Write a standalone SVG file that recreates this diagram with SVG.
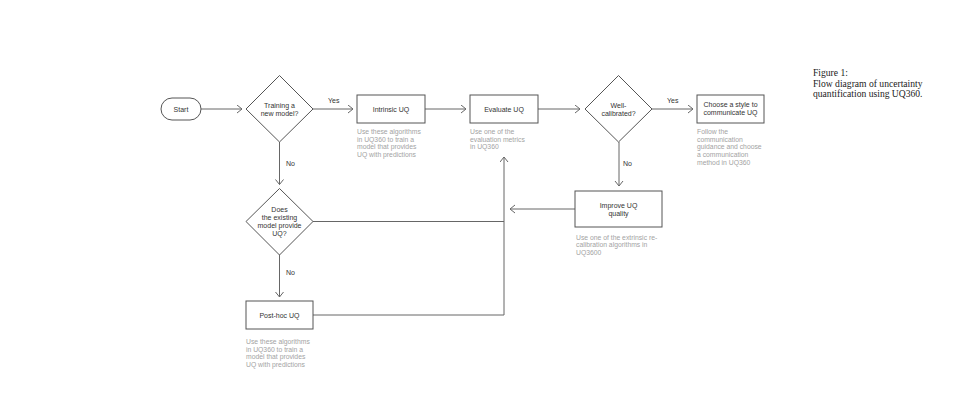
<svg xmlns="http://www.w3.org/2000/svg" width="960" height="420" viewBox="0 0 960 420">
<defs>
<marker id="arr" markerUnits="userSpaceOnUse" markerWidth="10" markerHeight="10" refX="5.5" refY="4.5" orient="auto">
<path d="M0.5,0.5 L5.5,4.5 L0.5,8.5" fill="none" stroke="#666" stroke-width="1"/>
</marker>
</defs>
<style>
.shape{fill:#fff;stroke:#555;stroke-width:1}
.lbl{font-family:"Liberation Sans",Arial,sans-serif;font-size:7px;fill:#333;text-anchor:middle}
.desc{font-family:"Liberation Sans",Arial,sans-serif;font-size:6.8px;fill:#a3a3a3}
.cl{font-family:"Liberation Sans",Arial,sans-serif;font-size:7px;fill:#333}
.con{fill:none;stroke:#666;stroke-width:1}
.cap{font-family:"Liberation Serif","Times New Roman",serif;font-size:9.6px;fill:#222}
</style>
<rect width="960" height="420" fill="#fff"/>
<g id="connectors">
<line class="con" x1="201" y1="109" x2="242" y2="109" marker-end="url(#arr)"/>
<line class="con" x1="313" y1="109" x2="353" y2="109" marker-end="url(#arr)"/>
<text class="cl" x="328" y="103">Yes</text>
<line class="con" x1="425" y1="109" x2="466" y2="109" marker-end="url(#arr)"/>
<line class="con" x1="538" y1="109" x2="580" y2="109" marker-end="url(#arr)"/>
<line class="con" x1="652" y1="109" x2="693" y2="109" marker-end="url(#arr)"/>
<text class="cl" x="667" y="103">Yes</text>
<line class="con" x1="619" y1="142" x2="619" y2="186" marker-end="url(#arr)"/>
<text class="cl" x="623" y="165.5">No</text>
<line class="con" x1="575" y1="209" x2="510" y2="209" marker-end="url(#arr)"/>
<line class="con" x1="504" y1="315" x2="504" y2="157" marker-end="url(#arr)"/>
<line class="con" x1="313" y1="221.5" x2="504" y2="221.5"/>
<line class="con" x1="313" y1="315" x2="504" y2="315"/>
<line class="con" x1="279.5" y1="142" x2="279.5" y2="184.5" marker-end="url(#arr)"/>
<text class="cl" x="286" y="165.5">No</text>
<line class="con" x1="279.5" y1="255" x2="279.5" y2="297" marker-end="url(#arr)"/>
<text class="cl" x="286" y="275">No</text>
</g>
<g id="start">
<rect class="shape" x="161" y="98" width="40" height="22" rx="11"/>
<text class="lbl" x="181" y="111.5">Start</text>
</g>
<g id="training">
<polygon class="shape" points="279.5,75.5 313,109 279.5,142 246,109"/>
<text class="lbl" x="279.5" y="107.5">Training a</text>
<text class="lbl" x="279.5" y="116">new model?</text>
</g>
<g id="intrinsic">
<rect class="shape" x="357" y="95" width="68" height="28"/>
<text class="lbl" x="391" y="112">Intrinsic UQ</text>
<text class="desc" x="357" y="134">Use these algorithms</text>
<text class="desc" x="357" y="141.7">in UQ360 to train a</text>
<text class="desc" x="357" y="149.4">model that provides</text>
<text class="desc" x="357" y="157.1">UQ with predictions</text>
</g>
<g id="evaluate">
<rect class="shape" x="470" y="95" width="68" height="28"/>
<text class="lbl" x="504" y="112">Evaluate UQ</text>
<text class="desc" x="470" y="134">Use one of the</text>
<text class="desc" x="470" y="141.7">evaluation metrics</text>
<text class="desc" x="470" y="149.4">in UQ360</text>
</g>
<g id="wellcalibrated">
<polygon class="shape" points="618.5,75.5 652,109 618.5,142 585,109"/>
<text class="lbl" x="618.5" y="107.5">Well-</text>
<text class="lbl" x="618.5" y="116">calibrated?</text>
</g>
<g id="choose">
<rect class="shape" x="697" y="95" width="67" height="28"/>
<text class="lbl" x="730.5" y="106.5">Choose a style to</text>
<text class="lbl" x="730.5" y="115">communicate UQ</text>
<text class="desc" x="697" y="134">Follow the</text>
<text class="desc" x="697" y="141.7">communication</text>
<text class="desc" x="697" y="149.4">guidance and choose</text>
<text class="desc" x="697" y="157.1">a communication</text>
<text class="desc" x="697" y="164.8">method in UQ360</text>
</g>
<g id="improve">
<rect class="shape" x="575" y="191" width="87" height="36"/>
<text class="lbl" x="618.5" y="207.5">Improve UQ</text>
<text class="lbl" x="618.5" y="216">quality</text>
<text class="desc" x="576" y="239.5">Use one of the extrinsic re-</text>
<text class="desc" x="576" y="247.2">calibration algorithms in</text>
<text class="desc" x="576" y="254.9">UQ3600</text>
</g>
<g id="existing">
<polygon class="shape" points="279.5,188.5 313,221.5 279.5,255 246,221.5"/>
<text class="lbl" x="279.5" y="211.8">Does</text>
<text class="lbl" x="279.5" y="219.8">the existing</text>
<text class="lbl" x="279.5" y="228">model provide</text>
<text class="lbl" x="279.5" y="236">UQ?</text>
</g>
<g id="posthoc">
<rect class="shape" x="246" y="301" width="67" height="28"/>
<text class="lbl" x="279.5" y="318">Post-hoc UQ</text>
<text class="desc" x="246" y="344">Use these algorithms</text>
<text class="desc" x="246" y="351.7">in UQ360 to train a</text>
<text class="desc" x="246" y="359.4">model that provides</text>
<text class="desc" x="246" y="367.1">UQ with predictions</text>
</g>
<g id="caption">
<text class="cap" x="813" y="76">Figure 1:</text>
<text class="cap" x="813" y="86.5">Flow diagram of uncertainty</text>
<text class="cap" x="813" y="97">quantification using UQ360.</text>
</g>
</svg>
